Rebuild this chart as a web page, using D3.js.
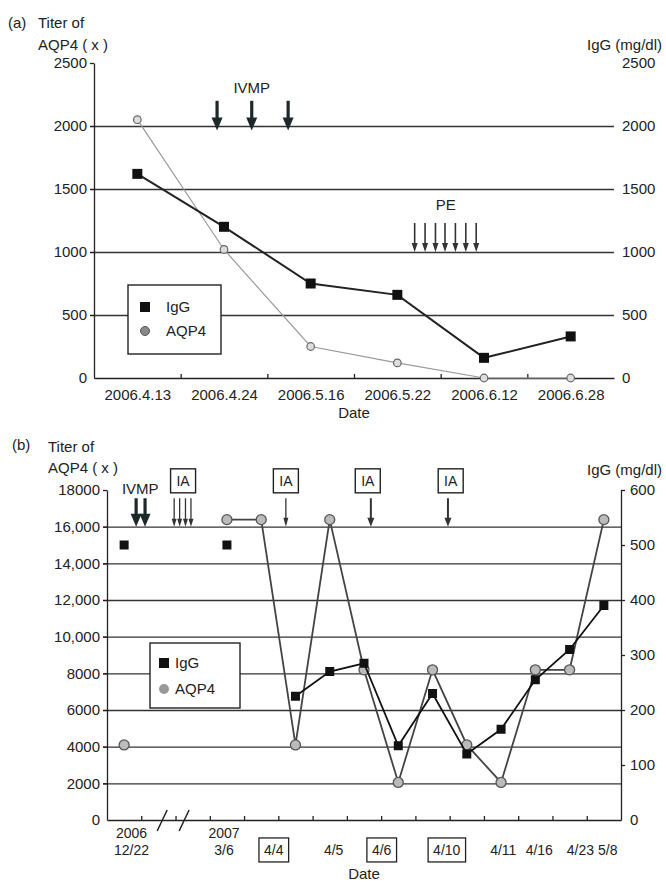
<!DOCTYPE html>
<html><head><meta charset="utf-8">
<script src="https://cdn.jsdelivr.net/npm/d3@7"></script>
<style>
html,body{margin:0;padding:0;background:#fff;}
svg{display:block;font-family:"Liberation Sans",Arial,Helvetica,sans-serif;}
text{fill:#222;}
</style></head><body>
<svg id="chart" width="666" height="882"></svg>
<script>
// ---------------- Panel (a) data ----------------
const datesA = ["2006.4.13","2006.4.24","2006.5.16","2006.5.22","2006.6.12","2006.6.28"];
const iggA   = [1620, 1200, 750, 660, 160, 330];
const aqp4A  = [2050, 1020, 250, 120, 0, 0];
const ticksA = [0, 500, 1000, 1500, 2000, 2500];
const tickLabelsA = ["0","500","1000","1500","2000","2500"];
const ivmpA  = [0.92, 1.32, 1.74];                       // date-index positions
const peA    = [3.20, 3.32, 3.44, 3.55, 3.67, 3.79, 3.91];

// ---------------- Panel (b) data ----------------
const slotsB = ["12/22","gap1","gap2","3/6","4/4 pre","4/4 post","4/5","4/6 pre","4/6 post",
                "4/10 pre","4/10 post","4/11","4/16","4/23","5/8"];
const aqp4B  = [4096, null, null, 16384, 16384, 4096, 16384, 8192, 2048, 8192, 4096, 2048, 8192, 8192, 16384];
const iggB   = [500, null, null, 500, null, 225, 270, 285, 135, 230, 120, 165, 255, 310, 390];
const ticksB = [0, 2000, 4000, 6000, 8000, 10000, 12000, 14000, 16000, 18000];
const tickLabelsB = ["0","2000","4000","6000","8000","10,000","12,000","14,000","16,000","18000"];
const ticksBr = [0, 100, 200, 300, 400, 500, 600];
const dateRow1B = ["2006","2007","","","","","","","",""];
const dateRow2B = ["12/22","3/6","4/4","4/5","4/6","4/10","4/11","4/16","4/23","5/8"];
const datePosB  = [0.2, 2.9, 4.35, 6.1, 7.5, 9.4, 11.05, 12.1, 13.3, 14.1];
const dateBoxB  = [false, false, true, false, true, true, false, false, false, false];
const ivmpB     = [0.35, 0.61];
const iaGroupB  = [1.46, 1.62, 1.79, 1.95];
const iaSingleB = [4.72, 7.2, 9.45];
const iaBoxB    = [1.72, 4.72, 7.11, 9.53];
const breakB    = [1.11, 1.75];

const svg = d3.select("#chart");
const FS = 15;
const INK = "#222";

function arrow(g, x, y1, y2, sw, hw, hh, color){
  g.append("line").attr("x1",x).attr("x2",x).attr("y1",y1).attr("y2",y2-hh+1)
    .attr("stroke",color).attr("stroke-width",sw);
  g.append("path").attr("d",`M${x-hw/2},${y2-hh}L${x+hw/2},${y2-hh}L${x},${y2}Z`).attr("fill",color);
}
function styleAxis(g){
  g.selectAll("path.domain").attr("stroke",INK).attr("stroke-width",1.3);
  g.selectAll(".tick line").attr("stroke",INK).attr("stroke-width",1.3);
  g.selectAll("text").attr("font-size",FS).attr("fill",INK).attr("font-family",null);
}

// =============== Panel (a) ===============
{
  const L=94, R=614, T=63, B=378;
  const x = d3.scaleLinear().domain([-0.5, datesA.length-0.5]).range([L,R]);
  const y = d3.scaleLinear().domain([0,2500]).range([B,T]);
  const g = svg.append("g");

  // gridlines
  const grid = g.append("g").attr("transform",`translate(${L},0)`)
    .call(d3.axisLeft(y).tickValues(ticksA.slice(1,5)).tickSize(-(R-L)).tickFormat(""));
  grid.select(".domain").remove();
  grid.selectAll(".tick line").attr("stroke","#333").attr("stroke-width",1.3);
  grid.selectAll(".tick").append("line").attr("x1",-4).attr("x2",0).attr("stroke","#333").attr("stroke-width",1.3);

  // left axis
  const la = g.append("g").attr("transform",`translate(${L},0)`)
    .call(d3.axisLeft(y).tickValues(ticksA).tickSize(4).tickSizeOuter(0).tickPadding(3)
      .tickFormat((d,i)=>tickLabelsA[i]));
  styleAxis(la);
  la.selectAll(".tick").filter(d=>d===0).select("line").remove();

  // right labels
  const ra = g.append("g").attr("transform",`translate(${R},0)`)
    .call(d3.axisRight(y).tickValues(ticksA).tickSize(0).tickPadding(8).tickFormat((d,i)=>tickLabelsA[i]));
  ra.select(".domain").remove();
  styleAxis(ra);

  // bottom axis
  const ba = g.append("g").attr("transform",`translate(0,${B})`)
    .call(d3.axisBottom(x).tickValues([0.5,1.5,2.5,3.5,4.5]).tickSize(-4).tickSizeOuter(0).tickFormat(""));
  styleAxis(ba);
  const bl = g.append("g").attr("transform",`translate(0,${B})`)
    .call(d3.axisBottom(x).tickValues(d3.range(datesA.length)).tickSize(0).tickPadding(11).tickFormat(i=>datesA[i]));
  bl.select(".domain").remove();
  styleAxis(bl);

  // titles
  g.append("text").attr("x",8).attr("y",28).attr("font-size",FS).text("(a)");
  g.append("text").attr("x",38).attr("y",28).attr("font-size",FS).text("Titer of");
  g.append("text").attr("x",38).attr("y",50).attr("font-size",FS).text("AQP4 ( x )");
  g.append("text").attr("x",662).attr("y",50).attr("text-anchor","end").attr("font-size",FS).text("IgG (mg/dl)");
  g.append("text").attr("x",(L+R)/2).attr("y",418).attr("text-anchor","middle").attr("font-size",FS).text("Date");

  // AQP4 line + markers
  g.append("path").datum(aqp4A).attr("fill","none").attr("stroke","#999").attr("stroke-width",1.2)
    .attr("d", d3.line().x((d,i)=>x(i)).y(d=>y(d)));
  g.selectAll(".ca").data(aqp4A).join("circle").attr("cx",(d,i)=>x(i)).attr("cy",d=>y(d)).attr("r",3.8)
    .attr("fill","#ddd").attr("stroke","#666").attr("stroke-width",1.2);
  // IgG line + markers
  g.append("path").datum(iggA).attr("fill","none").attr("stroke","#222").attr("stroke-width",2)
    .attr("d", d3.line().x((d,i)=>x(i)).y(d=>y(d)));
  g.selectAll(".sa").data(iggA).join("rect").attr("x",(d,i)=>x(i)-5).attr("y",d=>y(d)-5)
    .attr("width",10).attr("height",10).attr("fill","#111");

  // IVMP
  g.append("text").attr("x",x(1.32)).attr("y",y(2262)).attr("text-anchor","middle").attr("font-size",FS).text("IVMP");
  ivmpA.forEach(p=>arrow(g, x(p), y(2200), y(1965), 3.2, 11, 13, "#1d2828"));
  // PE
  g.append("text").attr("x",x(3.56)).attr("y",y(1335)).attr("text-anchor","middle").attr("font-size",FS).text("PE");
  peA.forEach(p=>arrow(g, x(p), y(1230), y(1000), 1.6, 6, 9, "#333"));

  // legend
  const lg = g.append("g");
  lg.append("rect").attr("x",128).attr("y",285).attr("width",93).attr("height",69)
    .attr("fill","#fff").attr("stroke","#222").attr("stroke-width",1.4);
  lg.append("rect").attr("x",140).attr("y",302).attr("width",10).attr("height",10).attr("fill","#111");
  lg.append("text").attr("x",166).attr("y",312).attr("font-size",FS).text("IgG");
  lg.append("circle").attr("cx",145).attr("cy",331).attr("r",4.5).attr("fill","#888").attr("stroke","#555");
  lg.append("text").attr("x",166).attr("y",336).attr("font-size",FS).attr("fill","#888").text("AQP4");
}

// =============== Panel (b) ===============
{
  const L=107, R=621, T=490, B=820;
  const x = d3.scaleLinear().domain([-0.5, slotsB.length-0.5]).range([L,R]);
  const y = d3.scaleLinear().domain([0,18000]).range([B,T]);
  const yr = d3.scaleLinear().domain([0,600]).range([B,T]);
  const g = svg.append("g");

  const grid = g.append("g").attr("transform",`translate(${L},0)`)
    .call(d3.axisLeft(y).tickValues(ticksB.slice(1,9)).tickSize(-(R-L)).tickFormat(""));
  grid.select(".domain").remove();
  grid.selectAll(".tick line").attr("stroke","#333").attr("stroke-width",1.3);
  grid.selectAll(".tick").append("line").attr("x1",-4).attr("x2",0).attr("stroke","#333").attr("stroke-width",1.3);

  const la = g.append("g").attr("transform",`translate(${L},0)`)
    .call(d3.axisLeft(y).tickValues(ticksB).tickSize(4).tickSizeOuter(0).tickPadding(3)
      .tickFormat((d,i)=>tickLabelsB[i]));
  styleAxis(la);
  la.selectAll(".tick").filter(d=>d===0).select("line").remove();

  const ra = g.append("g").attr("transform",`translate(${R},0)`)
    .call(d3.axisRight(yr).tickValues(ticksBr).tickSize(4).tickSizeOuter(0).tickPadding(5));
  styleAxis(ra);
  ra.selectAll(".tick").filter(d=>d===0).select("line").remove();

  const ba = g.append("g").attr("transform",`translate(0,${B})`)
    .call(d3.axisBottom(x).tickValues([0.5,1.5,2.5,3.5,4.5,5.5,6.5,7.5,8.5,9.5,10.5,11.5,12.5,13.5])
      .tickSize(-4).tickSizeOuter(0).tickFormat(""));
  styleAxis(ba);
  breakB.forEach(p=>{
    g.append("line").attr("x1",x(p)-5).attr("x2",x(p)+5).attr("y1",B+11).attr("y2",B-10)
      .attr("stroke",INK).attr("stroke-width",1.5);
  });

  // bottom labels
  const r1 = g.append("g").attr("transform",`translate(0,${B})`)
    .call(d3.axisBottom(x).tickValues(datePosB).tickSize(0).tickPadding(8).tickFormat((d,i)=>dateRow1B[i]));
  r1.select(".domain").remove(); styleAxis(r1);
  r1.selectAll("text").attr("font-size",14);
  const r2 = g.append("g").attr("transform",`translate(0,${B+17})`)
    .call(d3.axisBottom(x).tickValues(datePosB).tickSize(0).tickPadding(8).tickFormat((d,i)=>dateRow2B[i]));
  r2.select(".domain").remove(); styleAxis(r2);
  r2.selectAll("text").attr("font-size",14);
  r2.selectAll(".tick").each(function(d,i){
    if(!dateBoxB[i]) return;
    const t = d3.select(this).select("text");
    const bb = t.node().getBBox();
    d3.select(this).insert("rect","text").attr("x",bb.x-5).attr("y",bb.y-4)
      .attr("width",bb.width+10).attr("height",bb.height+8)
      .attr("fill","none").attr("stroke",INK).attr("stroke-width",1.3);
  });

  g.append("text").attr("x",(L+R)/2).attr("y",879).attr("text-anchor","middle").attr("font-size",FS).text("Date");

  // titles
  g.append("text").attr("x",12).attr("y",450).attr("font-size",FS).text("(b)");
  g.append("text").attr("x",48).attr("y",452).attr("font-size",FS).text("Titer of");
  g.append("text").attr("x",48).attr("y",473).attr("font-size",FS).text("AQP4 ( x )");
  g.append("text").attr("x",662).attr("y",475).attr("text-anchor","end").attr("font-size",FS).text("IgG (mg/dl)");

  // annotations
  g.append("text").attr("x",x(0.47)).attr("y",y(17780)).attr("text-anchor","middle").attr("font-size",FS).text("IVMP");
  ivmpB.forEach(p=>arrow(g, x(p), y(17550), y(16000), 3.2, 11, 13, "#1d2828"));
  iaGroupB.forEach(p=>arrow(g, x(p), y(17550), y(16000), 1.3, 5, 8, "#333"));
  iaSingleB.forEach((p,i)=>arrow(g, x(p), y(17550), y(16000), i===0?1.3:2, i===0?5:7, 9, "#333"));
  iaBoxB.forEach(p=>{
    const cx = x(p), cy = y(18500);
    g.append("rect").attr("x",cx-12.5).attr("y",cy-12).attr("width",25).attr("height",24)
      .attr("fill","#fff").attr("stroke",INK).attr("stroke-width",1.4);
    g.append("text").attr("x",cx).attr("y",cy+5).attr("text-anchor","middle").attr("font-size",14).text("IA");
  });

  // AQP4
  g.append("path").datum(aqp4B).attr("fill","none").attr("stroke","#444").attr("stroke-width",1.8)
    .attr("d", d3.line().defined(d=>d!==null).x((d,i)=>x(i)).y(d=>y(d)));
  g.selectAll(".cb").data(aqp4B.map((v,i)=>({v,i})).filter(d=>d.v!==null)).join("circle")
    .attr("cx",d=>x(d.i)).attr("cy",d=>y(d.v)).attr("r",5)
    .attr("fill","#bbb").attr("stroke","#555").attr("stroke-width",1.3);
  // IgG
  g.append("path").datum(iggB).attr("fill","none").attr("stroke","#111").attr("stroke-width",1.8)
    .attr("d", d3.line().defined(d=>d!==null).x((d,i)=>x(i)).y(d=>yr(d)));
  g.selectAll(".sb").data(iggB.map((v,i)=>({v,i})).filter(d=>d.v!==null)).join("rect")
    .attr("x",d=>x(d.i)-4.5).attr("y",d=>yr(d.v)-4.5).attr("width",9).attr("height",9).attr("fill","#111");

  // legend
  const lg = g.append("g");
  lg.append("rect").attr("x",150).attr("y",643).attr("width",90).attr("height",65)
    .attr("fill","#fff").attr("stroke","#222").attr("stroke-width",1.4);
  lg.append("rect").attr("x",159).attr("y",658).attr("width",10).attr("height",10).attr("fill","#111");
  lg.append("text").attr("x",175).attr("y",668).attr("font-size",FS).text("IgG");
  lg.append("circle").attr("cx",164).attr("cy",689).attr("r",5).attr("fill","#999");
  lg.append("text").attr("x",175).attr("y",694).attr("font-size",FS).text("AQP4");
}
</script>
</body></html>
